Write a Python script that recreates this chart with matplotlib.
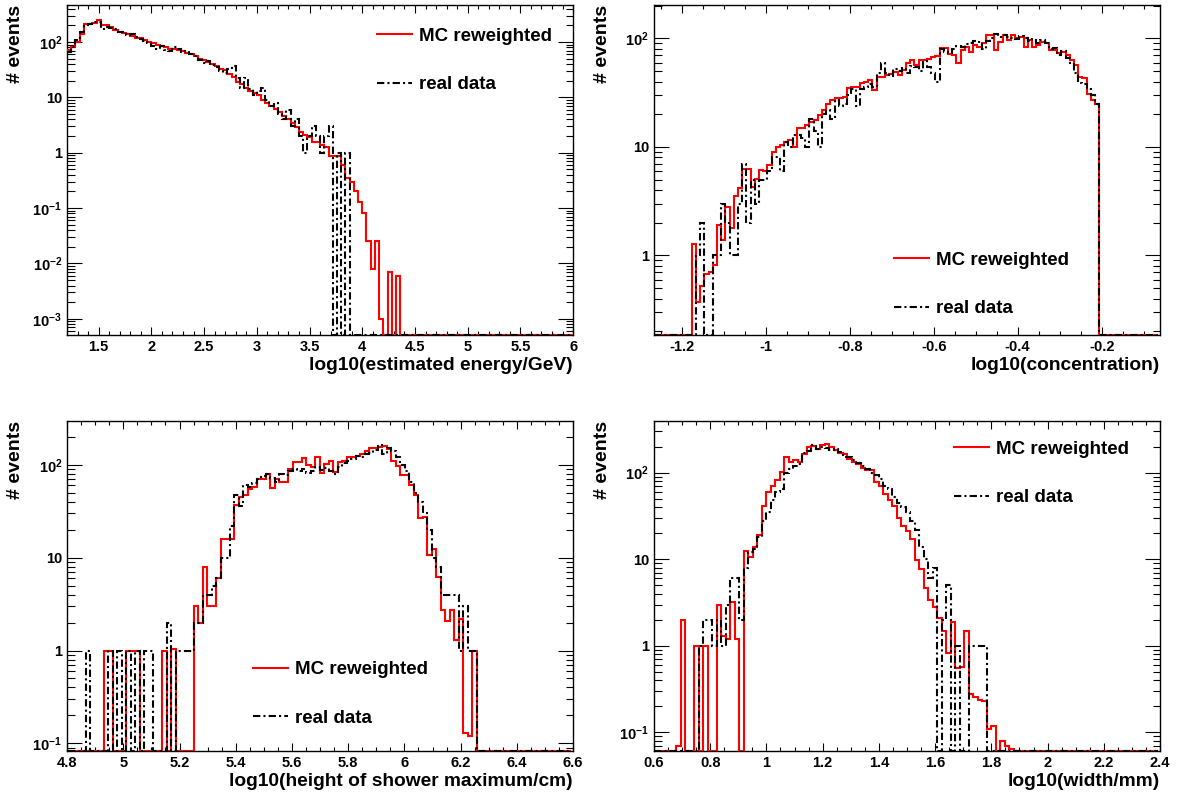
import matplotlib.pyplot as plt
import numpy as np
from matplotlib.lines import Line2D
from matplotlib.ticker import FuncFormatter, LogLocator, MultipleLocator, NullFormatter

plt.rcParams["font.family"] = "Liberation Sans"
plt.rcParams["font.weight"] = "bold"
plt.rcParams["mathtext.fontset"] = "custom"
plt.rcParams["mathtext.bf"] = "Liberation Sans:bold"
plt.rcParams["mathtext.rm"] = "Liberation Sans:bold"
plt.rcParams["mathtext.default"] = "bf"

# ---- binning (start, width, number of bins) ----
energy_bins = (1.2, 0.04, 120)
conc_bins = (-1.266, 0.01, 120)
height_bins = (4.802, 0.016, 112)
width_bins = (0.6, 0.016, 112)

# ---- bin contents (first bin index, values) ----
energy_mc_start = 0
energy_mc = [71, 81, 100, 140, 208, 208, 220, 246, 200, 200,
             190, 162, 155, 145, 140, 130, 120, 118, 110, 100,
             95, 90, 85, 80, 76, 75, 72, 68, 64, 60,
             55, 50, 47, 43, 40, 37, 33, 31, 27, 23,
             19, 17.6, 15, 13, 12, 11, 9, 8, 7, 6.3,
             5.5, 4.7, 4.0, 3.4, 2.9, 2.4, 2.07, 1.9, 1.56, 1.56,
             1.4, 1.27, 0.87, 0.87, 0.87, 0.6, 0.35, 0.3, 0.2, 0.13,
             0.08, 0.025, 0.008, 0.025, 0.001, 0, 0.007, 0, 0.006]
energy_data_start = 0
energy_data = [65, 80, 110, 150, 200, 215, 235, 230, 175, 185,
               180, 170, 150, 150, 135, 140, 125, 115, 105, 95,
               85, 75, 85, 72, 70, 80, 75, 65, 70, 62,
               55, 48, 42, 45, 38, 35, 30, 28, 33, 37,
               22, 15, 22, 14, 11, 13, 15, 9, 7, 8,
               5, 4, 6, 3, 4, 2, 1, 2, 3, 2,
               1, 2, 3, 0, 1, 0, 1]

conc_mc_start = 9
conc_mc = [1.28, 0.37, 0.52, 0.68, 0.7, 0.81, 1.9, 1.4, 2.8, 1.8,
           3.5, 4.2, 6.3, 6.3, 4.3, 5.1, 6.1, 6.0, 6.8, 9,
           10, 10.4, 11, 11.5, 10, 14.8, 15, 16, 17, 17.6,
           19.6, 21.8, 25, 27, 28, 28, 29, 35, 36, 36,
           38.5, 40, 41, 33.5, 44, 44, 46, 47, 49, 46,
           51, 59, 63, 57, 63, 63, 64, 68, 69, 81,
           81, 72, 70, 59, 78, 84, 75, 87, 84, 90,
           107, 107, 78, 93, 107, 96, 107, 100, 104, 84,
           96, 84, 87, 93, 90, 79, 78, 74, 75, 70,
           63, 57, 44, 43, 31, 27, 25]
conc_data_start = 10
conc_data = [1, 2, 0, 0, 1, 1, 3, 2, 1, 1,
             3, 7, 2, 5, 3, 5, 5, 6, 8, 8,
             6, 11, 10, 13, 13, 12, 10, 18, 14, 10,
             20, 22, 18, 27, 24, 25, 30, 34, 24, 34,
             36, 38, 36, 48, 60, 48, 45, 52, 50, 53,
             48, 56, 54, 50, 62, 55, 48, 40, 80, 75,
             73, 80, 85, 84, 88, 90, 95, 92, 80, 95,
             100, 110, 103, 108, 104, 100, 98, 106, 102, 95,
             98, 90, 96, 90, 80, 82, 70, 76, 66, 60,
             48, 39, 38, 34, 30, 25]

height_mc_start = 8
height_mc = [1, 1, 0, 0, 0, 1, 1, 1, 0, 0,
             0, 0, 0, 1, 0, 1.05, 0, 0, 0, 0,
             3, 2, 8, 3, 3, 6, 16, 16, 16, 37,
             45, 47, 55, 58, 70, 70, 80, 56, 71, 65,
             65, 90, 108, 108, 118, 100, 95, 122, 81, 101,
             110, 83, 107, 110, 122, 122, 125, 131, 142, 152,
             152, 155, 160, 149, 110, 98, 77, 77, 60, 47,
             27, 27.5, 10.6, 12.5, 6.2, 2.7, 2.1, 2.7, 1.3, 2.2,
             0.13, 0.12, 1.0]
height_data_start = 4
height_data = [1, 0, 0, 0, 0, 1, 0, 1, 0, 1,
               0, 1, 0, 1, 1, 0, 0, 0, 2, 0,
               1, 1, 1, 1, 2, 2, 4, 4, 5, 6,
               10, 10, 22, 47, 36, 60, 58, 63, 70, 75,
               80, 72, 65, 80, 78, 85, 90, 85, 90, 82,
               85, 95, 88, 92, 85, 80, 95, 105, 110, 115,
               125, 120, 130, 135, 145, 165, 130, 150, 140, 120,
               100, 85, 65, 50, 40, 30, 20, 10, 8, 4,
               4, 4, 4, 1, 3, 1, 1]

width_mc_start = 5
width_mc = [0.07, 2, 0, 0, 1, 0, 1, 0, 0, 3,
            1.3, 1.2, 3.2, 1.2, 0, 12.3, 10.6, 14, 19, 41,
            60, 71, 82, 101, 150, 133, 141, 133, 165, 198,
            202, 189, 207, 216, 198, 181, 169, 165, 145, 133,
            125, 112, 106, 106, 78, 71, 57, 48, 41, 30,
            24, 21, 17, 9.8, 7.8, 4.6, 3.4, 2.8, 2.1, 1.5,
            0.83, 1.9, 0.55, 0.57, 1.5, 0.28, 0.26, 0.24, 0.23, 0.11,
            0.12, 0, 0.08, 0.07, 0.065]
width_data_start = 10
width_data = [1, 2, 2, 1, 2, 1, 3, 6, 6, 2,
              8, 12, 13, 18, 28, 35, 48, 60, 65, 100,
              110, 120, 125, 170, 180, 210, 190, 200, 195, 185,
              190, 175, 150, 150, 140, 130, 120, 110, 100, 95,
              85, 70, 65, 52, 45, 40, 35, 28, 22, 14,
              10, 6, 8, 0, 2, 5, 0, 1, 0, 0,
              1, 1, 1, 1]

xlabels = ["log10(estimated energy/GeV)", "log10(concentration)",
           "log10(height of shower maximum/cm)", "log10(width/mm)"]
legend_labels = ["MC reweighted", "real data"]


def fill_bins(nbins, start, vals):
    out = np.zeros(nbins)
    out[start:start + len(vals)] = vals
    return out


def log_label(v, pos):
    e = int(round(np.log10(v)))
    if e == 0:
        return "1"
    if e == 1:
        return "10"
    return "$10^{%d}$" % e


fig = plt.figure(figsize=(11.91, 7.95), dpi=100)

panels = [
    # bins, mc, data, xlim, ylim, xmajor, xminor, axes rect, legend anchor
    (energy_bins, (energy_mc_start, energy_mc), (energy_data_start, energy_data),
     (1.2, 6.0), (5.1e-4, 466), 0.5, 0.1, [0.0563, 0.5786, 0.4249, 0.415], (0.613, 0.932)),
    (conc_bins, (conc_mc_start, conc_mc), (conc_data_start, conc_data),
     (-1.266, -0.061), (0.185, 203), 0.2, 0.05, [0.5491, 0.5786, 0.4249, 0.415], (0.474, 0.253)),
    (height_bins, (height_mc_start, height_mc), (height_data_start, height_data),
     (4.8, 6.6), (0.0828, 295), 0.2, 0.05, [0.0563, 0.0553, 0.4249, 0.415], (0.368, 0.273)),
    (width_bins, (width_mc_start, width_mc), (width_data_start, width_data),
     (0.6, 2.4), (0.061, 394), 0.2, 0.05, [0.5491, 0.0553, 0.4249, 0.415], (0.593, 0.94)),
]

dash_dot = (0, (3.5, 1.5, 1.0, 1.5))

for i, (bins, mc, data, xlim, ylim, xmaj, xmin, rect, leg_at) in enumerate(panels):
    ax = fig.add_axes(rect)
    x0, w, n = bins
    edges = x0 + w * np.arange(n + 1)
    mc_vals = fill_bins(n, *mc)
    data_vals = fill_bins(n, *data)

    ax.set_yscale("log")
    ax.stairs(np.maximum(mc_vals, ylim[0]), edges, baseline=None,
              color="red", lw=1.5, zorder=3)
    ax.stairs(np.maximum(data_vals, ylim[0]), edges, baseline=None,
              color="black", lw=1.5, linestyle=dash_dot, zorder=3)

    ax.set_xlim(*xlim)
    ax.set_ylim(*ylim)

    ax.xaxis.set_major_locator(MultipleLocator(xmaj))
    ax.xaxis.set_minor_locator(MultipleLocator(xmin))
    ax.xaxis.set_major_formatter(FuncFormatter(lambda v, p: f"{v:g}"))
    ax.yaxis.set_major_locator(LogLocator(base=10, numticks=20))
    ax.yaxis.set_minor_locator(LogLocator(base=10, subs=np.arange(2, 10), numticks=20))
    ax.yaxis.set_major_formatter(FuncFormatter(log_label))
    ax.yaxis.set_minor_formatter(NullFormatter())

    ax.tick_params(which="both", direction="in", top=True, right=True,
                   width=0.8, labelsize=10.5, pad=3.5)
    ax.tick_params(axis="x", which="major", length=5.5)
    ax.tick_params(axis="x", which="minor", length=2.8)
    ax.tick_params(axis="y", which="major", length=10.8)
    ax.tick_params(axis="y", which="minor", length=5.4)
    for sp in ax.spines.values():
        sp.set_linewidth(1.0)

    ax.set_xlabel(xlabels[i], fontsize=13.8, fontweight="bold", loc="right", va="center")
    ax.xaxis.set_label_coords(1.0, -0.091)
    ax.set_ylabel("# events", fontsize=14, fontweight="bold", loc="top", va="center")
    ax.yaxis.set_label_coords(-0.101, 1.0)

    handles = [Line2D([], [], color="red", lw=1.5),
               Line2D([], [], color="black", lw=1.5, linestyle=dash_dot)]
    ax.legend(handles, legend_labels, loc="upper left", bbox_to_anchor=leg_at,
              frameon=False, prop={"size": 13.5, "weight": "bold"},
              handlelength=1.85, handletextpad=0.38, labelspacing=1.67,
              borderpad=0, borderaxespad=0)

fig.savefig("out.png", dpi=100)
